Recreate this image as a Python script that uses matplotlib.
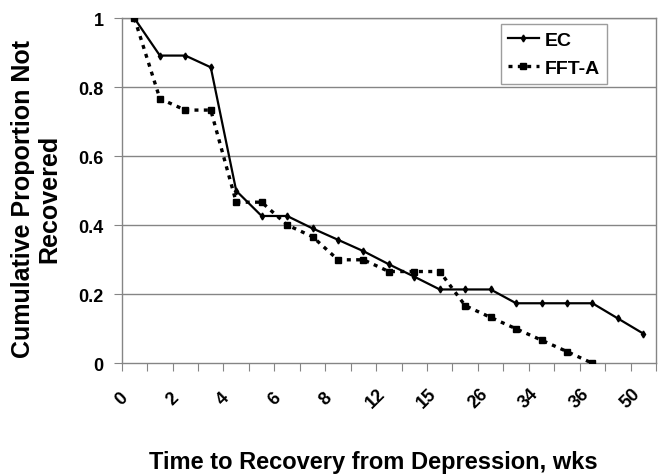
import matplotlib
matplotlib.use("Agg")
import numpy as np
import matplotlib.pyplot as plt

# time categories (weeks); only every other one gets a label
weeks = ["0", "1", "2", "3", "4", "5", "6", "7", "8", "10", "12",
         "13", "15", "20", "26", "30", "34", "35", "36", "40", "50"]
ec = [1.0, 0.892, 0.892, 0.858, 0.5, 0.427, 0.427, 0.391, 0.358, 0.325,
      0.287, 0.251, 0.214, 0.214, 0.214, 0.174, 0.174, 0.174, 0.174,
      0.130, 0.086]
fft_a = [1.0, 0.767, 0.734, 0.734, 0.467, 0.467, 0.401, 0.367, 0.300,
         0.300, 0.266, 0.266, 0.266, 0.167, 0.133, 0.100, 0.067, 0.034,
         0.0]
y_ticks = [0, 0.2, 0.4, 0.6, 0.8, 1.0]
y_labels = ["0", "0.2", "0.4", "0.6", "0.8", "1"]

plt.rcParams["font.family"] = "Liberation Sans"
plt.rcParams["font.weight"] = "bold"

fig = plt.figure(figsize=(6.64, 4.77), dpi=100)
ax = fig.add_axes([0.1833, 0.2363, 0.8047, 0.7232])

grid_col = "#858585"
x_ec = np.arange(len(ec))
x_fft = np.arange(len(fft_a))

ax.plot(x_ec, ec, color="black", lw=1.6, marker="d", ms=3.5,
        label="EC", zorder=3)
ax.plot(x_fft, fft_a, color="black", lw=2.4, ls=(0, (1.2, 1.6)),
        marker="s", ms=4, label="FFT-A", zorder=3)

ax.set_xlim(-0.5, len(weeks) - 0.5)
ax.set_ylim(0, 1)

ax.set_yticks(y_ticks)
ax.set_yticklabels(y_labels, fontsize=13, fontweight="bold")
for y in y_ticks[1:]:
    ax.axhline(y, color=grid_col, lw=1, zorder=1)

# tick marks sit between categories, labels on every other tick mark
edges = np.arange(-0.5, len(weeks))
edge_labels = [weeks[i] if (i % 2 == 0 and i < len(weeks)) else ""
               for i in range(len(edges))]
ax.set_xticks(edges)
ax.set_xticklabels(edge_labels, rotation=45, ha="center", va="center",
                   rotation_mode="anchor", fontsize=13, fontweight="bold")
ax.tick_params(axis="x", length=6, color=grid_col, direction="out", pad=19)
ax.tick_params(axis="y", length=6, color=grid_col, pad=7)

for side in ["left", "bottom", "right", "top"]:
    ax.spines[side].set_color(grid_col)
    ax.spines[side].set_linewidth(1)

ax.set_ylabel("Cumulative Proportion Not\nRecovered", fontsize=18,
              fontweight="bold", linespacing=1.15)
ax.yaxis.set_label_coords(-0.112, 0.48)
ax.set_xlabel("Time to Recovery from Depression, wks", fontsize=17,
              fontweight="bold")
ax.xaxis.set_label_coords(0.47, -0.25)

leg = ax.legend(loc="upper right", bbox_to_anchor=(0.908, 0.983),
                fontsize=14, frameon=True, fancybox=False,
                handlelength=1.6, handletextpad=0.3, borderpad=0.35,
                labelspacing=0.55, borderaxespad=0)
leg.get_frame().set_edgecolor(grid_col)
leg.get_frame().set_linewidth(1)

fig.savefig("out.png", dpi=100)
